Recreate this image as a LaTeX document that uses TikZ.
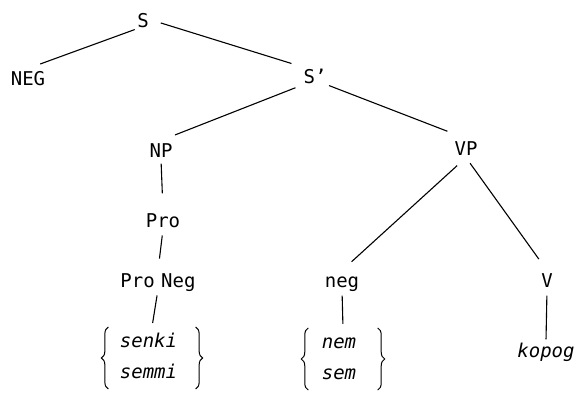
\documentclass[tikz,border=0pt]{standalone}
\usepackage{fontspec}
\newfontfamily\treefont{DejaVu Sans Mono}[ItalicFont={DejaVu Sans Mono Oblique}]
\usetikzlibrary{decorations.pathreplacing,positioning}

\newcommand{\altpair}[4]{\begin{tabular}{@{\hspace{#1}}l@{\hspace{#2}}}\rule{0pt}{20pt}\itshape #3\\[9pt]\itshape #4\rule[-10pt]{0pt}{10pt}\end{tabular}}

\begin{document}
\begin{tikzpicture}[x=1pt,y=-1pt,line width=1.1pt]
\tikzstyle{every node}=[font=\treefont\fontsize{19}{22}\selectfont,anchor=base,text height=14pt,text depth=0pt,inner sep=2pt]
\tikzstyle{choice}=[anchor=center,text height=,text depth=,inner sep=0pt]
\tikzstyle{curly}=[decorate,decoration={brace,amplitude=7pt},line width=1pt]
\useasboundingbox (0,0) rectangle (576,392);

\node (S) at (143,27) {S};
\node (NEG) at (28,85) {NEG};
\node (S1) at (315,83) {S’};
\node (NP) at (161,157) {NP};
\node (VP) at (466,155) {VP};
\node (Pro) at (163,227) {Pro};
\node (ProNeg) at (158,287) {Pro\hspace{-5pt} Neg};
\node (neg) at (342,287) {neg};
\node (V) at (547,287) {V};
\node (kopog) at (546,357) {\itshape kopog};
\node[choice] (senki) at (152,358) {\altpair{11pt}{18pt}{senki}{semmi}};
\node[choice] (nem) at (343,359) {\altpair{13pt}{21pt}{nem}{sem}};

% braces round the alternatives
\draw[curly] (senki.south west) -- (senki.north west);
\draw[curly] (senki.north east) -- (senki.south east);
\draw[curly] (nem.south west) -- (nem.north west);
\draw[curly] (nem.north east) -- (nem.south east);

\path
(S.south west) edge[shorten >=13pt] (NEG.north)
(S.east) edge[shorten <=10pt,shorten >=10pt] (S1.north west)
(S1.south west) edge[shorten <=6pt,shorten >=15pt] (NP.north)
(S1.south east) edge[shorten >=20pt] (VP.north)
(NP.south) edge[shorten <=4pt,shorten >=17pt] (Pro.north)
(Pro.south) edge[shorten <=6pt,shorten >=12pt] (ProNeg.north)
(ProNeg.south) edge[shorten <=6pt,shorten >=4pt] (senki.north)
(VP.south) edge[shorten <=12pt,shorten >=13pt] (neg.north)
(VP.south) edge[shorten <=7pt,shorten >=14pt] (V.north)
(neg.south) edge[shorten <=6pt,shorten >=4pt] (nem.north)
(V.south) edge[shorten <=6pt,shorten >=1pt] (kopog.north);
\end{tikzpicture}
\end{document}
